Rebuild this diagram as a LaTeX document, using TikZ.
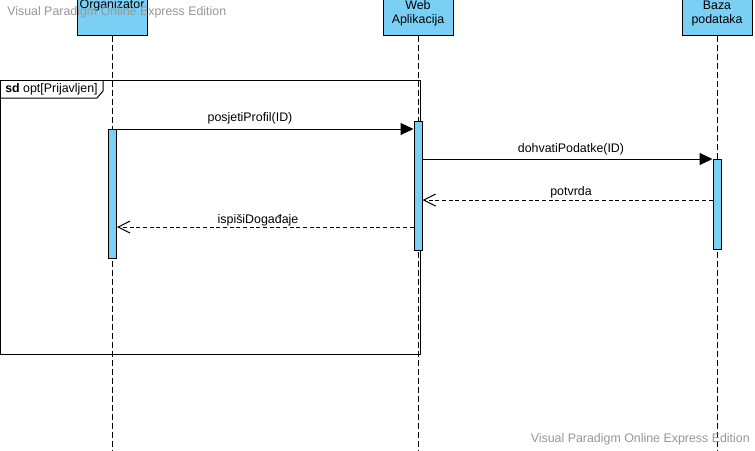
\documentclass[tikz,border=0pt]{standalone}
\usepackage{fontspec}
\setmainfont{Liberation Sans}
\usetikzlibrary{arrows.meta}
\definecolor{vpblue}{RGB}{122,207,245}
\definecolor{wm}{RGB}{150,150,150}
\tikzset{
  head/.style={draw=black, fill=vpblue, line width=0.75pt, minimum width=52.5pt, minimum height=33.75pt, inner sep=0pt},
  bar/.style={draw=black, fill=vpblue, line width=0.75pt, minimum width=6pt, inner sep=0pt},
  lbl/.style={font=\fontsize{9.3}{10.5}\selectfont, inner sep=0pt, align=center},
  life/.style={line width=0.75pt, dash pattern=on 4.5pt off 2.25pt},
  call/.style={line width=0.75pt, -{Triangle[length=9.75pt,width=9pt]}},
  reply/.style={line width=0.75pt, dash pattern=on 3pt off 2pt, -{Straight Barb[length=9pt,width=9pt,line width=0.75pt]}},
  wmark/.style={font=\fontsize{9.3}{10.5}\selectfont, text=wm, inner sep=0pt},
  framebox/.style={line width=0.75pt}
}
\begin{document}
\begin{tikzpicture}[x=0.75pt,y=-0.75pt]
\useasboundingbox (0,0) rectangle (755,450);
% lifeline heads
\node[head] (org) at (112,12.5) {};
\node[lbl] (orgt) at (112,5) {Organizator};
\node[head] (web) at (418,12.5) {};
\node[lbl] (webt) at (418,13.5) {Web\\Aplikacija};
\node[head] (db) at (717,12.5) {};
\node[lbl] (dbt) at (717,13.5) {Baza\\podataka};
% lifeline ends
\coordinate (orgend) at (112,450);
\coordinate (webend) at (418.5,450);
\coordinate (dbend) at (717,450);
\draw[life] (org.south) -- (orgend);
\draw[life] ([xshift=0.375pt]web.south) -- (webend);
\draw[life] (db.south) -- (dbend);
% frame
\coordinate (fa) at (0.5,80);
\coordinate (fb) at (420,354);
\draw[framebox] (fa) rectangle (fb);
\draw[framebox] (0.5,98) -- (97,98) -- (103,91) -- (103,80);
\node[lbl, anchor=west] (flabel) at (5,89) {\textbf{sd} opt[Prijavljen]};
% activation bars
\node[bar, minimum height=96.4pt] (orgbar) at (112.5,193.75) {};
\node[bar, minimum height=96.4pt] (webbar) at (418,185.75) {};
\node[bar, minimum height=67.5pt] (dbbar) at (717,204) {};
% messages
\coordinate (m1a) at (orgbar.east |- 0,129);
\coordinate (m1b) at (webbar.west |- 0,129);
\draw[call] (m1a) -- (m1b);
\node[lbl] (m1l) at (250,118) {posjetiProfil(ID)};
\coordinate (m2a) at (webbar.east |- 0,159);
\coordinate (m2b) at (dbbar.west |- 0,159);
\draw[call] (m2a) -- (m2b);
\node[lbl] (m2l) at (571,149) {dohvatiPodatke(ID)};
\coordinate (m3a) at (dbbar.west |- 0,200);
\coordinate (m3b) at (webbar.east |- 0,200);
\draw[reply] (m3a) -- (m3b);
\node[lbl] (m3l) at (571,192) {potvrda};
\coordinate (m4a) at (webbar.west |- 0,227);
\coordinate (m4b) at (orgbar.east |- 0,227);
\draw[reply] (m4a) -- (m4b);
\node[lbl] (m4l) at (258,220) {ispišiDogađaje};
% watermarks (drawn on top)
\node[wmark, anchor=west] (wm1) at (7,12) {Visual Paradigm Online Express Edition};
\node[wmark, anchor=east] (wm2) at (750,439) {Visual Paradigm Online Express Edition};
\end{tikzpicture}
\end{document}
